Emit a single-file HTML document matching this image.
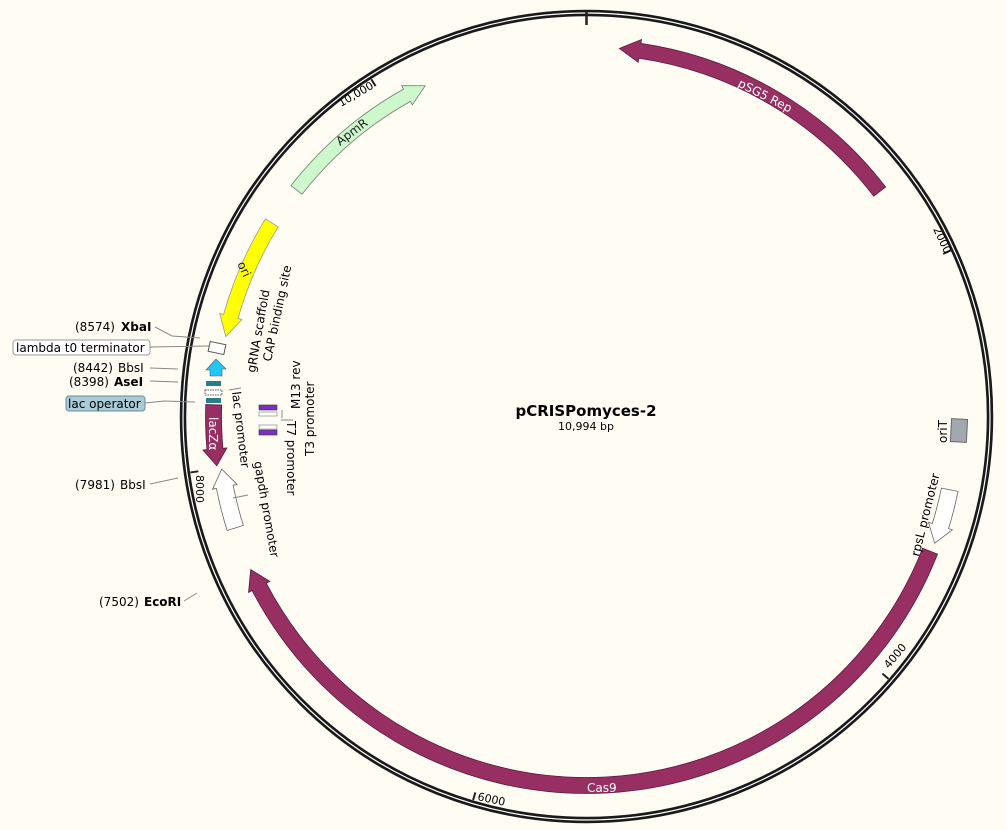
<!DOCTYPE html>
<html><head><meta charset="utf-8"><style>
html,body{margin:0;padding:0;background:#fffcf4;}
svg{display:block;font-family:"DejaVu Sans","Liberation Sans",sans-serif;}
</style></head><body>
<svg id="s" width="1006" height="830" viewBox="0 0 1006 830" xmlns="http://www.w3.org/2000/svg">
<rect width="1006" height="830" fill="#fffcf4"/>
<g id="shapes"></g>
<!-- ring -->
<circle cx="586.5" cy="416.5" r="403.5" fill="none" stroke="#1a1a1a" stroke-width="6.5"/>
<circle cx="586.5" cy="416.5" r="403.5" fill="none" stroke="#fff" stroke-width="1.2"/>
<line x1="586.5" y1="10" x2="586.5" y2="25" stroke="#222" stroke-width="2.5"/>
<g id="ticks"></g>
<!-- tick labels -->
<text x="0" y="0" font-size="11" transform="translate(933,229) rotate(65)">2000</text>
<text x="0" y="0" font-size="11" transform="translate(889,669) rotate(-50)">4000</text>
<text x="0" y="0" font-size="11" transform="translate(477,800) rotate(12)">6000</text>
<text x="0" y="0" font-size="11" transform="translate(196,475) rotate(90)">8000</text>
<text x="0" y="0" font-size="11" transform="translate(341,107) rotate(-30)">10,000</text>
<!-- feature labels -->
<text font-size="12" fill="#fff" transform="translate(737,86) rotate(27)">pSG5 Rep</text>
<text font-size="12" fill="#fff" x="587" y="792">Cas9</text>
<text font-size="12" fill="#222" transform="translate(340,146) rotate(-37)">ApmR</text>
<text font-size="12" fill="#222" transform="translate(237,264) rotate(64)">ori</text>
<text font-size="12" fill="#fff" transform="translate(209,417) rotate(90)">lacZα</text>
<text font-size="12" transform="translate(255,373) rotate(-80)">gRNA scaffold</text>
<text font-size="12" transform="translate(271,362) rotate(-78)">CAP binding site</text>
<text font-size="12" transform="translate(232,392) rotate(83)">lac promoter</text>
<text font-size="12" transform="translate(254,462) rotate(80)">gapdh promoter</text>
<text font-size="12" transform="translate(300,409) rotate(-90)">M13 rev</text>
<text font-size="12" transform="translate(314,456) rotate(-90)">T3 promoter</text>
<text font-size="12" transform="translate(287,421) rotate(90)">T7 promoter</text>
<text font-size="12" transform="translate(919,557) rotate(-76)">rpsL promoter</text>
<text font-size="12" transform="translate(947,443) rotate(-90)">oriT</text>
<text x="586" y="416" font-size="15" font-weight="bold" text-anchor="middle">pCRISPomyces-2</text>
<text x="586" y="430" font-size="11" text-anchor="middle">10,994 bp</text>
<!-- left labels -->
<g font-size="12">
<text x="75" y="331">(8574)</text><text x="121" y="331" font-weight="bold">XbaI</text>
<rect x="13" y="340" width="137" height="15" rx="3" fill="#fff" stroke="#999"/>
<text x="16" y="352">lambda t0 terminator</text>
<text x="73" y="372">(8442)</text><text x="118" y="372">BbsI</text>
<text x="69" y="386">(8398)</text><text x="114" y="386" font-weight="bold">AseI</text>
<rect x="66" y="396" width="79" height="15" rx="3" fill="#a8cbd6" stroke="#6a8a99"/>
<text x="68" y="408">lac operator</text>
<text x="75" y="489">(7981)</text><text x="120" y="489">BbsI</text>
<text x="99" y="606">(7502)</text><text x="144" y="606" font-weight="bold">EcoRI</text>
</g>
<g stroke="#888" stroke-width="1" fill="none">
<polyline points="155,327 172,336 200,338"/>
<polyline points="150,347 210,346"/>
<polyline points="150,368 178,369"/>
<polyline points="150,381 178,382"/>
<polyline points="145,403 164,401 195,402"/>
<polyline points="150,484 178,478"/>
<polyline points="184,601 197,593"/>
<polyline points="229,390 241,388"/>
<polyline points="233,498 248,495"/>
<polyline points="282,410 282,418"/>
<polyline points="281,420 293,420"/>
</g>
<!-- small features -->
<rect x="209" y="343" width="16" height="10" fill="#fff" stroke="#555" transform="rotate(12 217 348)"/>
<path d="M206,370 L216,359 L226,369 L222,369 L222,376 L210,376 L210,370 Z" fill="#22c8f5" stroke="#555" stroke-width="0.6"/>
<rect x="206" y="381" width="15" height="5" fill="#2a7b8c"/>
<rect x="205" y="390" width="17" height="5" fill="#fff" stroke="#555" stroke-dasharray="1.5,1"/>
<rect x="206" y="398" width="15" height="5" fill="#2a7b8c"/>
<rect x="259" y="405" width="18" height="5" fill="#7b2fc0" stroke="#333" stroke-width="0.6"/>
<rect x="259" y="412" width="18" height="4" fill="#fff" stroke="#777" stroke-width="0.6"/>
<rect x="259" y="425" width="18" height="4" fill="#fff" stroke="#777" stroke-width="0.6"/>
<rect x="259" y="430" width="18" height="5" fill="#7b2fc0" stroke="#333" stroke-width="0.6"/>
<rect x="951" y="419" width="16" height="23" fill="#a3a8b0" stroke="#666" transform="rotate(3 959 430)"/>
</svg>
<script>
(function(){
var cx=586.5,cy=416.5,NS="http://www.w3.org/2000/svg";
function P(a,r){var t=a*Math.PI/180;return [(cx+r*Math.sin(t)).toFixed(2),(cy-r*Math.cos(t)).toFixed(2)];}
function arrow(a1,a2,ri,ro,head,h,fill,stroke){
 var rm=(ri+ro)/2,ex=4,d;
 var b1=a1,b2=a2;
 if(head==='end')b2=a2-h; if(head==='start')b1=a1+h;
 var lg=(b2-b1)>180?1:0;
 d="M"+P(b1,ro)+" A"+ro+","+ro+" 0 "+lg+" 1 "+P(b2,ro);
 if(head==='end'){d+=" L"+P(b2,ro+ex)+" L"+P(a2,rm)+" L"+P(b2,ri-ex);}
 d+=" L"+P(b2,ri)+" A"+ri+","+ri+" 0 "+lg+" 0 "+P(b1,ri);
 if(head==='start'){d+=" L"+P(b1,ri-ex)+" L"+P(a1,rm)+" L"+P(b1,ro+ex);}
 d+=" Z";
 var e=document.createElementNS(NS,"path");e.setAttribute("d",d);e.setAttribute("fill",fill);
 e.setAttribute("stroke",stroke);e.setAttribute("stroke-width","0.8");
 document.getElementById("shapes").appendChild(e);
}
var M="#982f63";
arrow(5.1,52.5,362,377,'start',3.2,M,"#5a1a3a");
arrow(111.4,245.5,361,377,'end',3.0,M,"#5a1a3a");
arrow(308,334,361,375,'end',3.2,"#ccf8cc","#777");
arrow(282.5,301.6,362,377,'start',3.2,"#ffff00","#999");
arrow(262.4,271.8,365,381,'start',2.6,M,"#5a1a3a");
arrow(252.4,261.8,360,377,'end',2.8,"#fff","#666");
arrow(101.4,110,362,379,'end',2.8,"#fff","#666");
var tk=document.getElementById("ticks");
[2000,4000,6000,8000,10000].forEach(function(v){
 var a=v/10994*360,p1=P(a,400),p2=P(a,392);
 var l=document.createElementNS(NS,"line");
 l.setAttribute("x1",p1[0]);l.setAttribute("y1",p1[1]);l.setAttribute("x2",p2[0]);l.setAttribute("y2",p2[1]);
 l.setAttribute("stroke","#222");l.setAttribute("stroke-width","2");tk.appendChild(l);
});
})();
</script>
</body></html>
